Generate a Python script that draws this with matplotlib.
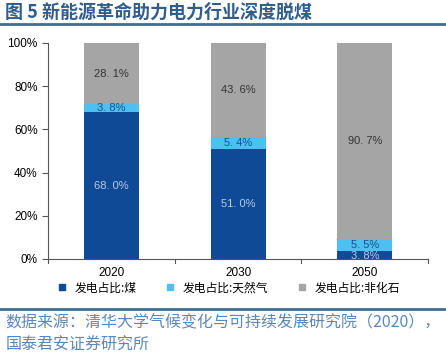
import matplotlib.pyplot as plt
from matplotlib.lines import Line2D

plt.rcParams['font.family'] = ['Liberation Sans', 'Noto Sans CJK SC', 'DejaVu Sans']

years = ['2020', '2030', '2050']
coal = [68.0, 51.0, 3.8]
gas = [3.8, 5.4, 5.5]
non_fossil = [28.1, 43.6, 90.7]
series_names = ['发电占比:煤', '发电占比:天然气', '发电占比:非化石']
colors = ['#0e4a96', '#4cc0ee', '#a5a5a5']
label_colors = ['#b9cbe6', '#1d4f86', '#333333']

fig = plt.figure(figsize=(4.46, 3.60), dpi=100)
ax = fig.add_axes([0.1076, 0.2806, 0.8524, 0.6])

x = range(len(years))
width = 0.435
bottom = [0, 0, 0]
for vals, c, lc, name in zip([coal, gas, non_fossil], colors, label_colors, series_names):
    ax.bar(x, vals, width, bottom=bottom, color=c, label=name)
    for i, v in enumerate(vals):
        y = bottom[i] + v / 2
        if name == series_names[0] and v < 5:
            y = bottom[i] + v / 2 - 0.5
        ax.text(i, y, f'{v:.1f}%'.replace('.', '. '), ha='center', va='center',
                fontsize=8, color=lc)
    bottom = [b + v for b, v in zip(bottom, vals)]

ax.set_xlim(-0.5, 2.5)
ax.set_ylim(0, 100)
ax.set_yticks(range(0, 101, 20))
ax.set_yticklabels([f'{t}%' for t in range(0, 101, 20)], fontsize=8.5)
ax.set_xticks(list(x))
ax.set_xticklabels(years, fontsize=8.5)
ax.tick_params(axis='x', length=0, pad=6)
ax.tick_params(axis='y', length=4, direction='out', color='#555555')
for b in [-0.5, 0.5, 1.5, 2.5]:
    ax.plot([b, b], [0, -1.8], color='#555555', lw=0.8, clip_on=False)
for s in ['top', 'right']:
    ax.spines[s].set_visible(False)
ax.spines['left'].set_color('#555555')
ax.spines['bottom'].set_color('#555555')

handles = [Line2D([], [], marker='s', ls='', color=c, markersize=5) for c in colors]
fig.legend(handles, series_names, loc='center', bbox_to_anchor=(0.505, 0.2), ncol=3,
           frameon=False, handletextpad=0.1, columnspacing=1.8,
           prop={'family': ['Noto Sans CJK SC'], 'size': 8.5})

fig.text(0.012, 0.965, '图 5 新能源革命助力电力行业深度脱煤', fontsize=13,
         fontweight='bold', color='#2f5d8c', va='center', family=['Noto Sans CJK SC'])
fig.add_artist(Line2D([0, 1], [0.933, 0.933], color='#3e6c94', lw=2))
fig.add_artist(Line2D([0, 1], [0.142, 0.142], color='#3e6c94', lw=2))
fig.text(0.012, 0.102, '数据来源：清华大学气候变化与可持续发展研究院（2020），',
         fontsize=11.5, color='#5a88b8', va='center', family=['Noto Sans CJK SC'])
fig.text(0.012, 0.04, '国泰君安证券研究所', fontsize=11.5, color='#5a88b8',
         va='center', family=['Noto Sans CJK SC'])

fig.savefig('out.png', dpi=100)
